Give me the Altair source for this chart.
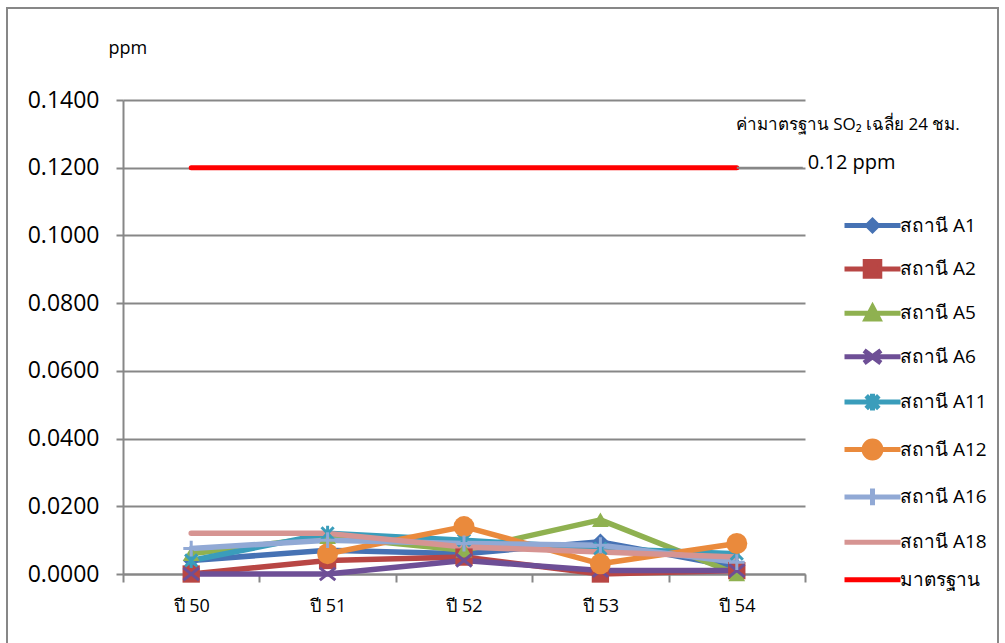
import altair as alt
import pandas as pd

# Annual average SO2 by monitoring station (ppm)
years = ["ปี 50", "ปี 51", "ปี 52", "ปี 53", "ปี 54"]
stations = ["สถานี A1", "สถานี A2", "สถานี A5", "สถานี A6",
            "สถานี A11", "สถานี A12", "สถานี A16", "สถานี A18"]
a1 = [0.0040, 0.0070, 0.0060, 0.0095, 0.0020]
a2 = [0.0000, 0.0040, 0.0050, 0.0000, 0.0010]
a5 = [0.0060, 0.0110, 0.0070, 0.0160, 0.0000]
a6 = [0.0000, 0.0000, 0.0040, 0.0010, 0.0010]
a11 = [0.0040, 0.0120, 0.0100, 0.0075, 0.0060]
a12 = [None, 0.0060, 0.0140, 0.0030, 0.0090]
a16 = [0.0075, 0.0100, 0.0090, 0.0085, 0.0035]
a18 = [0.0120, 0.0120, 0.0080, 0.0065, 0.0050]
series = [a1, a2, a5, a6, a11, a12, a16, a18]

standard_name = "มาตรฐาน"
standard_value = 0.12
standard_note = "ค่ามาตรฐาน SO₂ เฉลี่ย 24 ชม."
standard_label = "0.12 ppm"
y_ticks = [0.0, 0.02, 0.04, 0.06, 0.08, 0.10, 0.12, 0.14]

colors = ["#4672B4", "#B84644", "#8FB150", "#6E4F96",
          "#3A9DBB", "#EA8A3C", "#91A9D5", "#D69492"]
standard_color = "#FF0000"
grey = "#878787"
font = "Open Sans"

rows = []
for name, vals in zip(stations, series):
    for yr, v in zip(years, vals):
        rows.append({"year": yr, "station": name, "value": v})
df = pd.DataFrame(rows)
std_df = pd.DataFrame({"year": years, "value": [standard_value] * len(years)})
end_df = pd.DataFrame({"year": [years[-1]], "value": [standard_value],
                       "note": [standard_note], "label": [standard_label]})

x_enc = alt.X("year:N", sort=years, bandPosition=0.5,
              scale=alt.Scale(type="band", domain=years, paddingInner=0, paddingOuter=0),
              axis=alt.Axis(title=None, tickBand="extent", grid=False,
                            labelFont=font, labelFontSize=18, labelColor="#000000",
                            labelPadding=15, tickSize=8, tickWidth=2, tickColor=grey,
                            domainColor=grey, domainWidth=2, labelAngle=0))
y_enc = alt.Y("value:Q",
              scale=alt.Scale(domain=[0, 0.14], nice=False, zero=True),
              axis=alt.Axis(values=y_ticks, format=".4f", title="ppm",
                            titleAngle=0, titleAlign="left", titleBaseline="alphabetic",
                            titleX=-15, titleY=-47, titleFont=font, titleFontSize=18,
                            titleFontWeight="normal", titleColor="#000000",
                            labelFont=font, labelFontSize=23, labelColor="#000000",
                            labelPadding=17, tickSize=7, tickWidth=2, tickColor=grey,
                            domainColor=grey, domainWidth=2,
                            grid=True, gridColor=grey, gridWidth=2))

color_scale = alt.Scale(domain=stations, range=colors)

lines = alt.Chart(df).mark_line(strokeWidth=5.5, strokeCap="round", strokeJoin="round").encode(
    x=x_enc, y=y_enc,
    color=alt.Color("station:N", scale=color_scale, legend=None),
    order=alt.Order("year:N"),
)

# Markers per station: (shape, filled, size)
marker_specs = {
    "สถานี A1": ("diamond", True, 280),
    "สถานี A2": ("square", True, 300),
    "สถานี A5": ("triangle-up", True, 280),
    "สถานี A6": ("M-1,-0.8L1,0.8M-1,0.8L1,-0.8", False, 240),
    "สถานี A11": ("M-0.8,-0.8L0.8,0.8M-0.8,0.8L0.8,-0.8M0,-1L0,1", False, 230),
    "สถานี A12": ("circle", True, 440),
    "สถานี A16": ("M-1,0L1,0M0,-1L0,1", False, 250),
}
marker_layers = []
for name, (shape, filled, size) in marker_specs.items():
    marker_layers.append(
        alt.Chart(df).transform_filter(alt.datum.station == name).mark_point(
            shape=shape, filled=filled, size=size, opacity=1,
            strokeWidth=1 if filled else 3,
        ).encode(
            x=alt.X("year:N", sort=years, bandPosition=0.5),
            y="value:Q",
            color=alt.Color("station:N", scale=color_scale, legend=None),
        )
    )

standard_line = alt.Chart(std_df).mark_line(
    color=standard_color, strokeWidth=5, strokeCap="round"
).encode(x=alt.X("year:N", sort=years, bandPosition=0.5), y="value:Q")

leader = alt.Chart(end_df).mark_rule(color=grey, strokeWidth=2, x2Offset=66).encode(
    x=alt.X("year:N", bandPosition=0.5),
    x2=alt.X2("year:N", bandPosition=0.5),
    y="value:Q",
)
note_text = alt.Chart(end_df).mark_text(
    font=font, fontSize=17, color="#000000", align="center", baseline="middle",
    dx=111, dy=-43,
).encode(x=alt.X("year:N", bandPosition=0.5), y="value:Q", text="note:N")
label_text = alt.Chart(end_df).mark_text(
    font=font, fontSize=20, color="#000000", align="left", baseline="middle",
    dx=71, dy=-5,
).encode(x=alt.X("year:N", bandPosition=0.5), y="value:Q", text="label:N")

# Legend: line-with-marker symbols as custom paths
legend_names = stations + [standard_name]
legend_colors = colors + [standard_color]
legend_paths = [
    "M-2,0L2,0M0,-0.36L0.36,0L0,0.36L-0.36,0Z",
    "M-2,0L2,0M-0.52,-0.52L0.52,-0.52L0.52,0.52L-0.52,0.52Z",
    "M-2,0L2,0M0,-0.45L0.45,0.4L-0.45,0.4Z",
    "M-2,0L2,0M-0.6,-0.45L0.6,0.45M-0.6,0.45L0.6,-0.45",
    "M-2,0L2,0M-0.45,-0.45L0.45,0.45M-0.45,0.45L0.45,-0.45M0,-0.6L0,0.6",
    "M-2,0L2,0M-0.6,0A0.6,0.6,0,1,0,0.6,0A0.6,0.6,0,1,0,-0.6,0Z",
    "M-2,0L2,0M0,-0.6L0,0.6",
    "M-2,0L2,0",
    "M-2,0L2,0",
]
legend_def = alt.Legend(
    title=None, orient="none", legendX=733, legendY=109, padding=0,
    symbolSize=784, symbolStrokeWidth=5, symbolOpacity=1,
    labelFont=font, labelFontSize=19, labelColor="#000000",
    labelOffset=11, rowPadding=10.4, labelLimit=0,
)
legend_df = pd.DataFrame({"station": legend_names})
legend_layer = alt.Chart(legend_df).transform_filter("false").mark_point(
    filled=True, opacity=1, strokeWidth=5
).encode(
    fill=alt.Fill("station:N", sort=legend_names,
                  scale=alt.Scale(domain=legend_names, range=legend_colors), legend=legend_def),
    stroke=alt.Stroke("station:N", sort=legend_names,
                      scale=alt.Scale(domain=legend_names, range=legend_colors), legend=legend_def),
    shape=alt.Shape("station:N", sort=legend_names,
                    scale=alt.Scale(domain=legend_names, range=legend_paths), legend=legend_def),
)

# Outer frame around the whole chart
frame = alt.Chart(pd.DataFrame({"k": [0]})).mark_rect(
    fill="transparent", stroke=grey, strokeWidth=2
).encode(x=alt.value(-116), x2=alt.value(875), y=alt.value(-92), y2=alt.value(560))

chart = alt.layer(
    frame, lines, *marker_layers, standard_line, leader, note_text, label_text, legend_layer
).resolve_scale(
    fill="independent", stroke="independent", shape="independent"
).properties(
    width=682, height=474,
    padding={"left": 123, "top": 100, "right": 200, "bottom": 69},
    autosize=alt.AutoSizeParams(type="none"),
    background="#FFFFFF",
).configure_view(strokeWidth=0)

chart.save("out.html", embed_options={"renderer": "svg", "actions": False})
